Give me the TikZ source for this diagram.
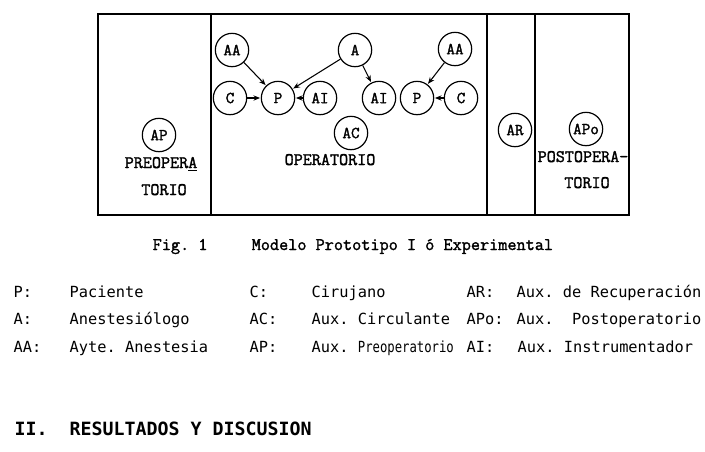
\documentclass[tikz,border=0pt]{standalone}
\usepackage{fontspec}
\newfontfamily\typew{Latin Modern Mono}[AutoFakeBold=1.6]
\newfontfamily\mono{DejaVu Sans Mono}
\usetikzlibrary{arrows.meta}
\frenchspacing

\begin{document}
\begin{tikzpicture}[x=0.75pt,y=-0.75pt,
  pers/.style={draw,circle,line width=0.9pt,inner sep=0pt,minimum size=25pt,
    font=\typew\bfseries\fontsize{12.5}{13}\selectfont},
  arr/.style={-{Stealth[length=5pt,width=4pt]},line width=0.8pt,shorten >=0.5pt},
  zona/.style={anchor=base,font=\typew\bfseries\fontsize{13.2}{15}\selectfont},
  ley/.style={anchor=base west,font=\mono\fontsize{11.5}{13}\selectfont}]
  \useasboundingbox (0,0) rectangle (705,451);
  \draw[line width=1.4pt] (98,14) rectangle (629,215);
  \draw[line width=1.1pt] (211,14) -- (211,215) (487,14) -- (487,215) (535,14) -- (535,215);
  \node[pers] (aaL) at (232,50) {AA};
  \node[pers] (a)   at (355,50) {A};
  \node[pers] (aaR) at (455,49) {AA};
  \node[pers] (cL)  at (230,98) {C};
  \node[pers] (pL)  at (278,98) {P};
  \node[pers] (aiL) at (320,98) {AI};
  \node[pers] (aiR) at (379,98) {AI};
  \node[pers] (pR)  at (417,98) {P};
  \node[pers] (cR)  at (461,98) {C};
  \node[pers] (ac)  at (351,133) {AC};
  \node[pers] (ap)  at (159,135) {AP};
  \node[pers] (ar)  at (515,130) {AR};
  \node[pers] (apo) at (586,129) {APo};
  \draw[arr] (aaL) -- (pL);
  \draw[arr] (a) -- (pL);
  \draw[arr] (a) -- (aiR);
  \draw[arr] (cL) -- (pL);
  \draw[arr] (aiL) -- (pL);
  \draw[arr] (aaR) -- (pR);
  \draw[arr] (cR) -- (pR);
  \node[zona] (pre1) at (161,168) {PREOPER\underline{A}};
  \node[zona] (pre2) at (164,195) {TORIO};
  \node[zona] (ope)  at (330,165) {OPERATORIO};
  \node[zona] (pos1) at (583,162) {POSTOPERA-};
  \node[zona] (pos2) at (587,188) {TORIO};
  \node[anchor=base west,font=\typew\bfseries\fontsize{13.3}{15}\selectfont] (fig) at (148,250) {Fig. 1};
  \node[anchor=base west,font=\typew\bfseries\fontsize{13.3}{15}\selectfont] (tit) at (247,250) {Modelo Prototipo I ó Experimental};
  \node[ley] (k1) at (9,297)   {P:};
  \node[ley] (t1) at (65,297)  {Paciente};
  \node[ley] (k2) at (9,324)   {A:};
  \node[ley] (t2) at (65,324)  {Anestesiólogo};
  \node[ley] (k3) at (9,352)   {AA:};
  \node[ley] (t3) at (65,352)  {Ayte. Anestesia};
  \node[ley] (k4) at (245,297) {C:};
  \node[ley] (t4) at (307,297) {Cirujano};
  \node[ley] (k5) at (245,324) {AC:};
  \node[ley] (t5) at (307,324) {Aux. Circulante};
  \node[ley] (k6) at (245,352) {AP:};
  \node[ley] (t6) at (307,352) {Aux. \scalebox{0.8}[1]{Preoperatorio}};
  \node[ley] (k7) at (462,297) {AR:};
  \node[ley] (t7) at (512,297) {Aux. de Recuperación};
  \node[ley] (k8) at (462,324) {APo:};
  \node[ley] (t8) at (512,324) {Aux.\ \ Postoperatorio};
  \node[ley] (k9) at (462,352) {AI:};
  \node[ley] (t9) at (513,352) {Aux. Instrumentador};
  \node[anchor=base west,font=\mono\bfseries\fontsize{13.7}{15}\selectfont] (sec) at (10,435) {II.};
  \node[anchor=base west,font=\mono\bfseries\fontsize{13.7}{15}\selectfont] (res) at (65,435) {RESULTADOS Y DISCUSION};
\end{tikzpicture}
\end{document}
